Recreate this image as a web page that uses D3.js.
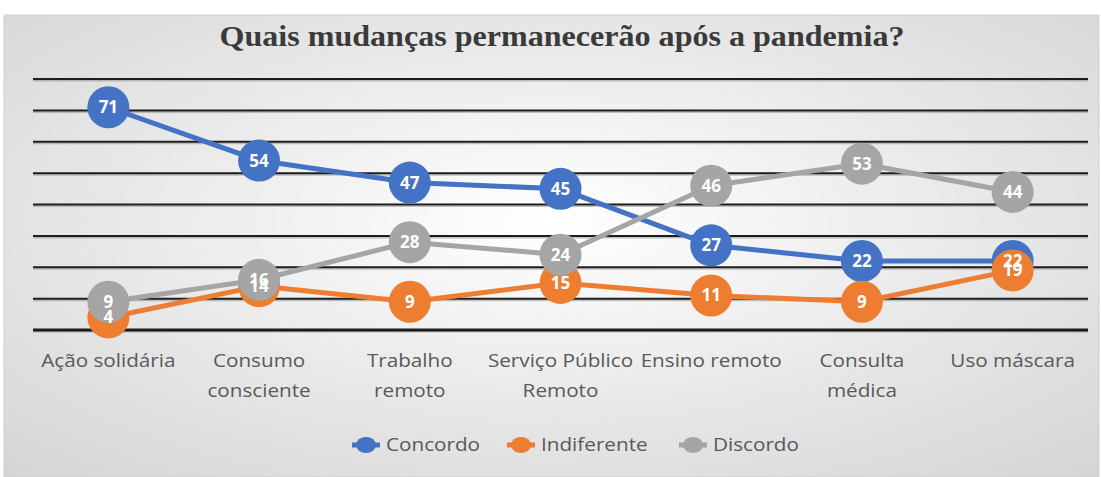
<!DOCTYPE html>
<html><head><meta charset="utf-8">
<script src="https://cdn.jsdelivr.net/npm/d3@7"></script>
<style>body{margin:0;background:#fff;}svg{display:block;}</style>
</head><body>
<svg id="c" width="1101" height="477"></svg>
<script>
const categories = [["Ação solidária"],["Consumo","consciente"],["Trabalho","remoto"],["Serviço Público","Remoto"],["Ensino remoto"],["Consulta","médica"],["Uso máscara"]];
const seriesNames = ["Concordo","Indiferente","Discordo"];
const concordo = [71,54,47,45,27,22,22];
const indiferente = [4,14,9,15,11,9,19];
const discordo = [9,16,28,24,46,53,44];
const gridTicks = [0,10,20,30,40,50,60,70,80];
const colors = ["#4472C4","#ED7D31","#A5A5A5"];
const title = "Quais mudanças permanecerão após a pandemia?";

const svg = d3.select("#c");
const defs = svg.append("defs");
const rg = defs.append("radialGradient").attr("id","bg").attr("cx","50%").attr("cy","45%").attr("r","75%");
rg.append("stop").attr("offset","0%").attr("stop-color","#ffffff");
rg.append("stop").attr("offset","100%").attr("stop-color","#d4d4d4");

svg.append("rect").attr("x",4).attr("y",15).attr("width",1095).attr("height",462)
  .attr("fill","url(#bg)").attr("stroke","#cfcfcf");

svg.append("text").attr("x",562).attr("y",46).attr("text-anchor","middle")
  .attr("font-family","Liberation Serif").attr("font-weight","bold").attr("font-size",29)
  .attr("fill","#3a3a3a").attr("textLength",685).attr("lengthAdjust","spacingAndGlyphs").text(title);

const x = d3.scaleBand().domain(d3.range(categories.length)).range([33,1088]);
const y = d3.scaleLinear().domain([0,80]).range([330,79]);
const cx = i => x(i)+x.bandwidth()/2;

const g = svg.append("g");
g.selectAll("line.sh").data(gridTicks).join("line")
  .attr("x1",33).attr("x2",1088).attr("y1",d=>y(d)+1.8).attr("y2",d=>y(d)+1.8)
  .attr("stroke","#8a8a8a").attr("stroke-width",1.5).attr("opacity",0.5);
g.selectAll("line.gr").data(gridTicks).join("line")
  .attr("x1",33).attr("x2",1088).attr("y1",d=>y(d)).attr("y2",d=>y(d))
  .attr("stroke","#1c1c1c").attr("stroke-width",d=>d===0?3:2);

// x axis labels
const xl = svg.append("g");
categories.forEach((lines,i)=>{
  const t = xl.append("g").attr("transform",`translate(${cx(i)},367) scale(1.15,1)`)
    .append("text").attr("text-anchor","middle")
    .attr("font-family","Open Sans").attr("font-size",18).attr("fill","#595959");
  lines.forEach((l,j)=>t.append("tspan").attr("x",0).attr("dy",j?30:0).text(l));
});

const data = [concordo,indiferente,discordo];
const line = d3.line().x((d,i)=>cx(i)).y(d=>y(d));
data.forEach((s,k)=>{
  svg.append("path").datum(s).attr("d",line).attr("fill","none")
    .attr("stroke",colors[k]).attr("stroke-width",5).attr("stroke-linejoin","round");
  svg.append("g").selectAll("circle").data(s).join("circle")
    .attr("cx",(d,i)=>cx(i)).attr("cy",d=>y(d)).attr("r",21).attr("fill",colors[k]);
});
data.forEach((s,k)=>{
  svg.append("g").selectAll("text").data(s).join("text")
    .attr("x",(d,i)=>cx(i)).attr("y",d=>y(d)+6).attr("text-anchor","middle")
    .attr("font-family","Open Sans").attr("font-weight","bold").attr("font-size",17)
    .attr("fill","#fff").text(d=>d);
});

// legend
const lg = svg.append("g");
const lx = [352,507,679];
seriesNames.forEach((n,k)=>{
  lg.append("line").attr("x1",lx[k]).attr("x2",lx[k]+28).attr("y1",445).attr("y2",445)
    .attr("stroke",colors[k]).attr("stroke-width",5);
  lg.append("ellipse").attr("cx",lx[k]+14).attr("cy",445).attr("rx",10).attr("ry",8).attr("fill",colors[k]);
  lg.append("g").attr("transform",`translate(${lx[k]+34},451) scale(1.15,1)`)
    .append("text").attr("font-family","Open Sans")
    .attr("font-size",18).attr("fill","#595959").text(n);
});
</script>
</body></html>
